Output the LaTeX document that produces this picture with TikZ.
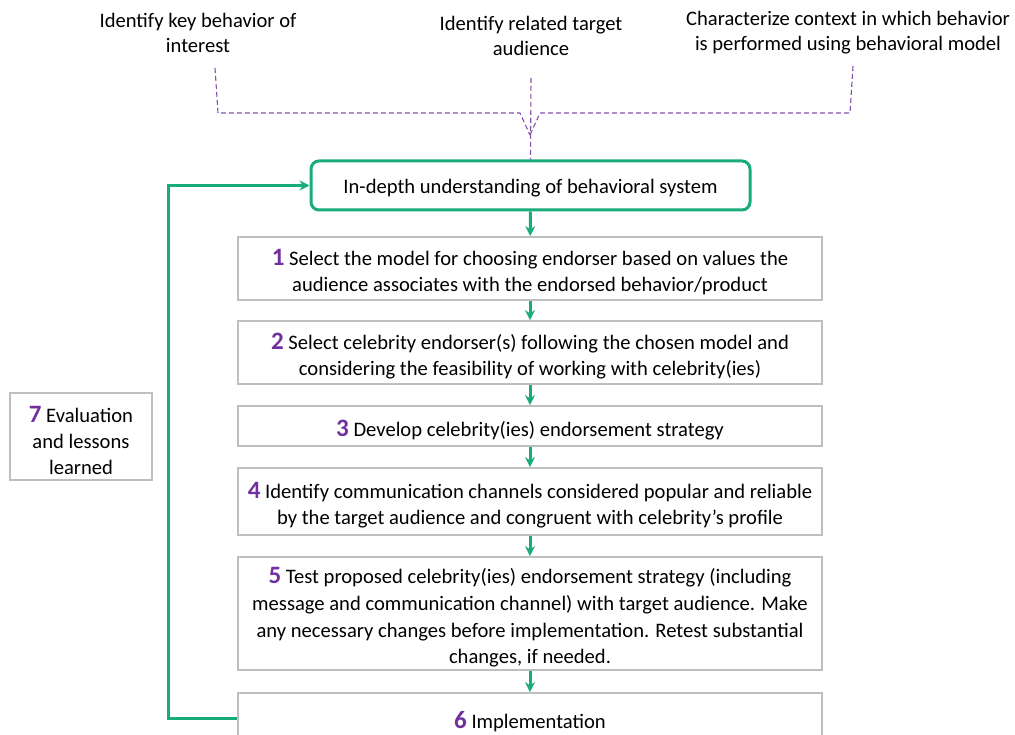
\documentclass[tikz,border=0pt]{standalone}
\usepackage{fontspec}
\setmainfont{Carlito}
\usetikzlibrary{arrows.meta}
\definecolor{grn}{RGB}{24,172,120}
\definecolor{pur}{RGB}{112,48,160}
\definecolor{gry}{RGB}{191,191,191}
\newcommand{\stepnum}[1]{\rule{0pt}{24pt}{\fontsize{25}{26}\selectfont\bfseries\color{pur}#1}}
\begin{document}
\begin{tikzpicture}[x=1pt,y=-1pt,
  txt/.style={align=center,font=\fontsize{20.6}{25}\selectfont,inner sep=0pt},
  box/.style={draw=gry,line width=1.8pt,minimum width=584pt,align=center,font=\fontsize{20.6}{26}\selectfont,inner sep=0pt},
  flow/.style={draw=grn,line width=3pt,-{Stealth[length=10pt,width=10pt]}},
  dsh/.style={draw=pur!85,line width=1.1pt,dash pattern=on 5pt off 3pt}]
\useasboundingbox (0,0) rectangle (1015,735);
% top texts
\node[txt] (t1) at (198,32.5) {Identify key behavior of\\interest};
\node[txt] (t2) at (531,35.5) {Identify related target\\audience};
\node[txt] (t3) at (848,32.5) {Characterize context in which behavior\\is performed using behavioral model};
% main boxes
\node[draw=grn,line width=3pt,rounded corners=8pt,minimum width=439pt,minimum height=49pt,font=\fontsize{20.6}{26}\selectfont,inner sep=0pt] (top) at (530.5,185.5) {\rule{0pt}{20pt}In-depth understanding of behavioral system};
\node[box,minimum height=63pt] (b1) at (530,268.5) {\stepnum{1} Select the model for choosing endorser based on values the\\audience associates with the endorsed behavior/product};
\node[box,minimum height=63pt] (b2) at (530,352.5) {\stepnum{2} Select celebrity endorser(s) following the chosen model and\\considering the feasibility of working with celebrity(ies)};
\node[box,minimum height=40pt] (b3) at (530,426) {\stepnum{3} Develop celebrity(ies) endorsement strategy};
\node[box,minimum height=67pt] (b4) at (530,501.5) {\stepnum{4} Identify communication channels considered popular and reliable\\by the target audience and congruent with celebrity’s profile};
\node[box,minimum height=113pt,font=\fontsize{20.6}{26.7}\selectfont] (b5) at (530,613.5) {\stepnum{5} Test proposed celebrity(ies) endorsement strategy (including\\message and communication channel) with target audience. Make\\any necessary changes before implementation. Retest substantial\\changes, if needed.};
\node[box,minimum height=50pt] (b6) at (530,718) {\stepnum{6} Implementation};
\node[box,minimum width=142pt,minimum height=87pt] (b7) at (81,436.5) {\stepnum{7} Evaluation\\and lessons\\learned};
% green arrows
\draw[flow] (top) -- (b1);
\draw[flow] (b1) -- (b2);
\draw[flow] (b2) -- (b3);
\draw[flow] (b3) -- (b4);
\draw[flow] (b4) -- (b5);
\draw[flow] (b5) -- (b6);
\coordinate (fb) at (168,0);
\draw[flow] (b6.west) -- (b6.west -| fb) |- (top.west);
% dashed purple brace
\coordinate (l1) at (215,68);
\coordinate (l2) at (218,113);
\coordinate (r1) at (853,66);
\coordinate (r2) at (850,113);
\coordinate (m) at (530,135);
\coordinate (c1) at (531,78);
\draw[dsh] (l1) -- (l2) -- (520,113) -- (m);
\draw[dsh] (r1) -- (r2) -- (540,113) -- (m);
\draw[dsh] (c1) -- (top.north);
\end{tikzpicture}
\end{document}
